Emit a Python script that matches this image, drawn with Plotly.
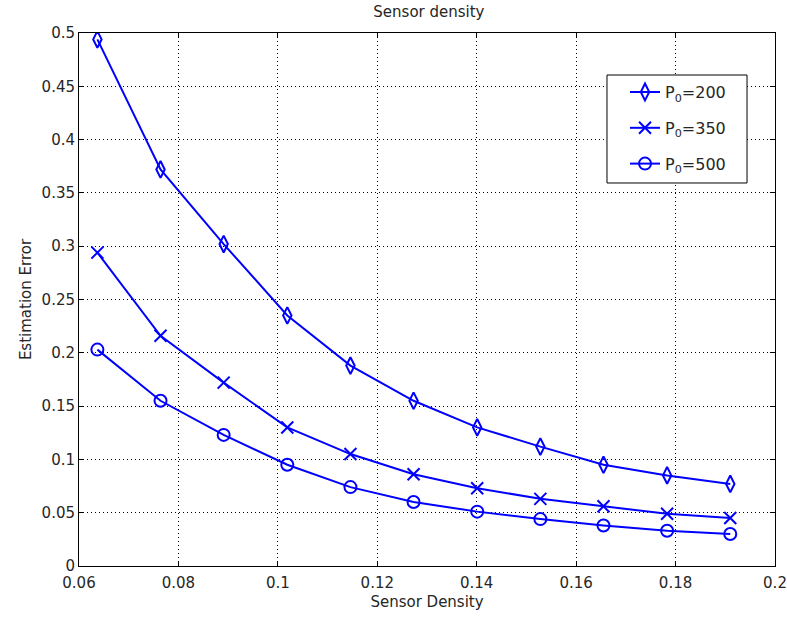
import plotly.graph_objects as go

# Sensor density values (x axis)
density = [0.0637, 0.0764, 0.0891, 0.1019, 0.1146, 0.1273, 0.1401, 0.1528, 0.1655, 0.1783, 0.1910]

# Estimation error per transmit power
err_p200 = [0.494, 0.372, 0.302, 0.235, 0.188, 0.155, 0.130, 0.112, 0.095, 0.085, 0.077]
err_p350 = [0.294, 0.216, 0.172, 0.130, 0.105, 0.086, 0.073, 0.063, 0.056, 0.049, 0.045]
err_p500 = [0.203, 0.155, 0.123, 0.095, 0.074, 0.060, 0.051, 0.044, 0.038, 0.033, 0.030]

series = [
    ("P<sub>0</sub>=200", err_p200, "diamond-tall-open"),
    ("P<sub>0</sub>=350", err_p350, "x-thin-open"),
    ("P<sub>0</sub>=500", err_p500, "circle-open"),
]

xticks = [0.06, 0.08, 0.1, 0.12, 0.14, 0.16, 0.18, 0.2]
xtick_text = ["0.06", "0.08", "0.1", "0.12", "0.14", "0.16", "0.18", "0.2"]
yticks = [0, 0.05, 0.1, 0.15, 0.2, 0.25, 0.3, 0.35, 0.4, 0.45, 0.5]
ytick_text = ["0", "0.05", "0.1", "0.15", "0.2", "0.25", "0.3", "0.35", "0.4", "0.45", "0.5"]

blue = "#0000ff"
ink = "#262626"
fig = go.Figure()
for i, (name, vals, sym) in enumerate(series):
    fig.add_trace(go.Scatter(
        x=density, y=vals, name=name, mode="lines+markers", legendgroup=f"g{i}",
        line=dict(color=blue, width=2),
        marker=dict(symbol=sym, size=12, color=blue, line=dict(color=blue, width=2)),
    ))

axis_common = dict(
    showline=True, linecolor="black", linewidth=1, mirror="allticks",
    ticks="inside", ticklen=5, tickcolor="black",
    showgrid=True, gridcolor="black", gridwidth=1, griddash="1px,3px",
    zeroline=False, tickfont=dict(size=15, color=ink),
)

# Legend frame: a white box in the upper right of the axes
fig.add_shape(type="rect", xref="paper", yref="paper",
              x0=0.7586, x1=0.9598, y0=0.7186, y1=0.9212,
              line=dict(color="black", width=1), fillcolor="white", layer="above")

fig.update_layout(
    width=787, height=619,
    margin=dict(l=79, r=12, t=33, b=53, autoexpand=False),
    paper_bgcolor="white", plot_bgcolor="white",
    font=dict(family="DejaVu Sans, sans-serif", size=15, color=ink),
    title=dict(text="Sensor density", x=0.545, xanchor="center", y=0.99, yanchor="top",
               font=dict(size=15, color=ink)),
    xaxis=dict(range=[0.06, 0.2], tickvals=xticks, ticktext=xtick_text, automargin=False,
               ticklabelstandoff=3,
               title=dict(text="Sensor Density", standoff=5, font=dict(size=15)), **axis_common),
    yaxis=dict(range=[0, 0.5], tickvals=yticks, ticktext=ytick_text, automargin=False,
               title=dict(text="Estimation Error", standoff=6, font=dict(size=15)), **axis_common),
    legend=dict(x=0.7845, y=0.921, xanchor="left", yanchor="top",
                borderwidth=0, bgcolor="rgba(0,0,0,0)",
                font=dict(size=16, color=ink), tracegroupgap=12),
    showlegend=True,
)

fig.write_html("out.html")
